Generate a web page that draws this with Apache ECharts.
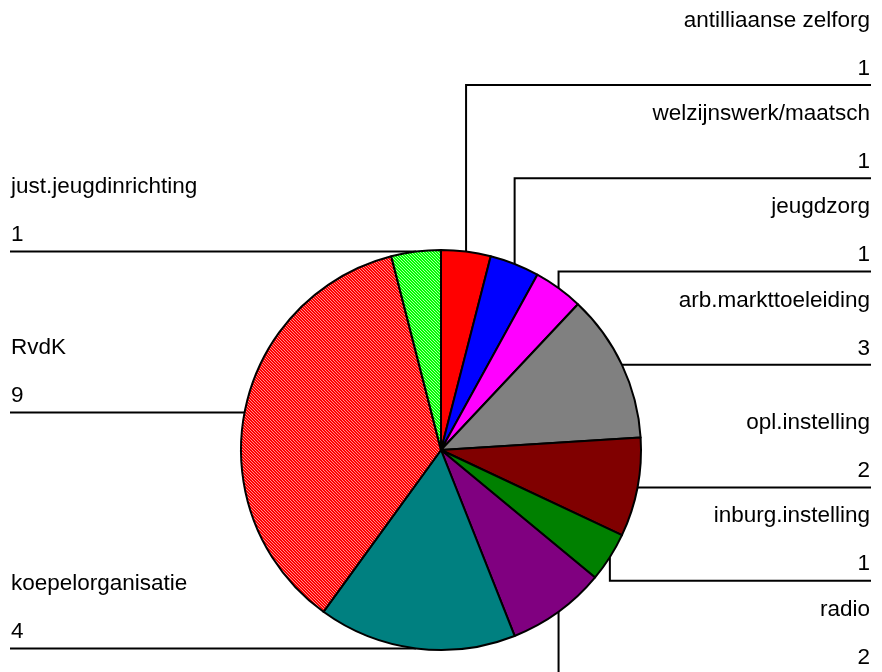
<!DOCTYPE html>
<html><head><meta charset="utf-8">
<script src="https://cdn.jsdelivr.net/npm/echarts@6/dist/echarts.min.js"></script>
<style>html,body{margin:0;padding:0;background:#fff}#c{width:882px;height:672px}</style>
</head><body><div id="c"></div>
<script>
// ---- data ----
const categories = ['antilliaanse zelforg','welzijnswerk/maatsch','jeugdzorg','arb.markttoeleiding','opl.instelling','inburg.instelling','radio','koepelorganisatie','RvdK','just.jeugdinrichting'];
const values = [1,1,1,3,2,1,2,4,9,1];

// ---- style / layout ----
const FONT = "'Liberation Sans', Arial, sans-serif";
const CX = 441, CY = 450, R = 200, GAP = 93.3, RIGHT_X = 871, LEFT_X = 10;

function hatch(base, light){
  const c = document.createElement('canvas'); c.width = c.height = 3;
  const g = c.getContext('2d');
  g.fillStyle = base; g.fillRect(0,0,3,3);
  g.fillStyle = light;
  for (let i=0;i<3;i++){ g.fillRect(i,i,1,1); }
  return {image: c, repeat: 'repeat'};
}
const sliceColors = ['#ff0000','#0000ff','#ff00ff','#808080','#800000','#008000','#800080','#008080',
  hatch('#ff0000','#ff8c8c'), hatch('#00ff00','#a8ffa8')];

// anchor points (slice mid-angle on the rim) and stacked label line heights
const total = values.reduce((a,b)=>a+b,0);
let acc = 0;
const anchors = values.map((v,i)=>{
  const mid = (acc + v/2)/total*2*Math.PI; acc += v;
  return {i, x: CX + R*Math.sin(mid), y: CY - R*Math.cos(mid), right: Math.sin(mid) >= 0};
});
function stack(list){
  list.sort((a,b)=>a.y-b.y);
  let p = 0, best = Infinity;
  list.forEach((a,k)=>{ const d = Math.abs(a.y-CY); if (d<best){best=d;p=k;} });
  list[p].ly = list[p].y;
  for (let k=p-1;k>=0;k--) list[k].ly = Math.min(list[k].y, list[k+1].ly-GAP);
  for (let k=p+1;k<list.length;k++) list[k].ly = Math.max(list[k].y, list[k-1].ly+GAP);
}
stack(anchors.filter(a=>a.right));
stack(anchors.filter(a=>!a.right));

const chart = echarts.init(document.getElementById('c'), null, {renderer:'canvas'});
chart.setOption({
  backgroundColor: '#fff',
  animation: false,
  series: [{
    type: 'pie',
    center: [CX, CY],
    radius: R,
    startAngle: 90,
    clockwise: true,
    avoidLabelOverlap: false,
    data: categories.map((n,i)=>({name:n, value: values[i], itemStyle:{color: sliceColors[i]}})),
    itemStyle: {borderColor:'#000', borderWidth: 2},
    emphasis: {disabled: true},
    label: {
      show: true, position: 'outside',
      formatter: '{n|{b}}\n{v|{c}}',
      rich: {
        n: {fontSize: 22.5, lineHeight: 50, fontFamily: FONT, color: '#000'},
        v: {fontSize: 22.5, lineHeight: 46, fontFamily: FONT, color: '#000'}
      }
    },
    labelLine: {show: true, length: 10, length2: 10, smooth: false, lineStyle: {color:'#000', width: 2}},
    labelLayout: function(p){
      const a = anchors[p.dataIndex];
      const endX = a.right ? RIGHT_X : LEFT_X;
      return {
        x: a.right ? RIGHT_X - 1 : LEFT_X + 1,
        y: a.ly + 6.5,
        align: a.right ? 'right' : 'left',
        verticalAlign: 'bottom',
        labelLinePoints: [[a.x, a.y],[a.x, a.ly],[endX, a.ly]]
      };
    }
  }]
});
</script>
</body></html>
